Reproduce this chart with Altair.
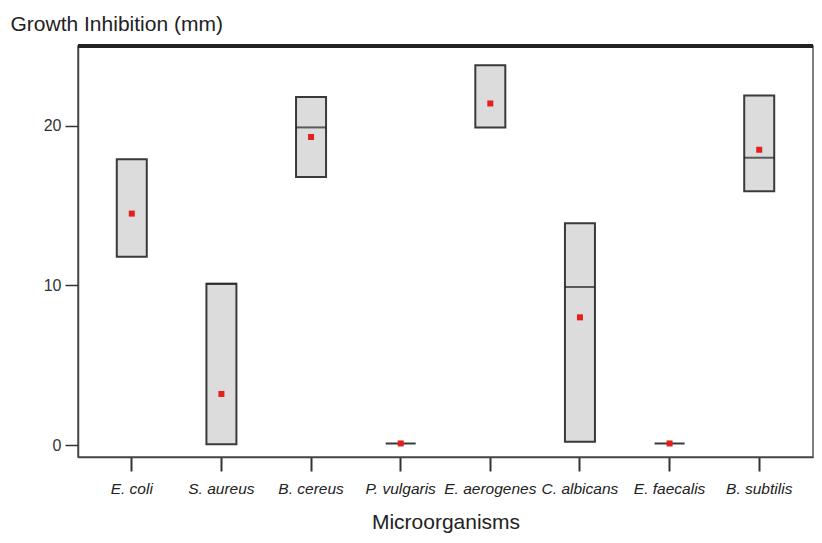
import altair as alt
import pandas as pd

categories = ["E. coli", "S. aureus", "B. cereus", "P. vulgaris",
              "E. aerogenes", "C. albicans", "E. faecalis", "B. subtilis"]
q1_values = [11.8, 0.05, 16.8, 0.1, 19.9, 0.2, 0.1, 15.9]
q3_values = [17.9, 10.1, 21.8, 0.1, 23.8, 13.9, 0.1, 21.9]
mean_values = [14.5, 3.2, 19.3, 0.1, 21.4, 8.0, 0.1, 18.5]
median_categories = ["S. aureus", "B. cereus", "C. albicans", "B. subtilis"]
median_values = [10.1, 19.9, 9.9, 18.0]
y_ticks = [0, 10, 20]

df = pd.DataFrame({"cat": categories, "q1": q1_values, "q3": q3_values, "mean": mean_values})
dmed = pd.DataFrame({"cat": median_categories, "median": median_values})

W, H = 735, 411

xscale = alt.Scale(domain=categories, paddingInner=0, paddingOuter=0.1)
yscale = alt.Scale(domain=[-0.75, 25], nice=False, zero=False)

xaxis = alt.Axis(
    title="Microorganisms", labelAngle=0, labelFont="Liberation Sans", labelFontStyle="italic",
    labelFontSize=15.5, labelColor="#222", labelPadding=10, tickSize=14, tickWidth=2,
    tickColor="#333", domainColor="#444", domainWidth=1.5,
    titleFont="Liberation Sans", titleFontSize=21, titleFontWeight="normal", titleColor="#222",
    titleY=71, titleBaseline="alphabetic",
)
yaxis = alt.Axis(
    title="Growth Inhibition (mm)", values=y_ticks, grid=False, labelFont="Liberation Sans",
    labelFontSize=16, labelColor="#333", labelPadding=4, tickSize=13, tickWidth=1.5,
    tickColor="#333", domainColor="#444", domainWidth=1.5,
    titleFont="Liberation Sans", titleFontSize=21, titleFontWeight="normal", titleColor="#222",
    titleAngle=0, titleAlign="left", titleX=-68, titleY=-16, titleBaseline="alphabetic",
)

boxes = alt.Chart(df).mark_bar(size=30, fill="#dcdcdc", stroke="#3a3a3a", strokeWidth=2).encode(
    x=alt.X("cat:N", scale=xscale, axis=xaxis, sort=categories),
    y=alt.Y("q1:Q", scale=yscale, axis=yaxis),
    y2="q3:Q",
)

medians = alt.Chart(dmed).mark_tick(size=30, thickness=2, color="#222").encode(
    x=alt.X("cat:N", scale=xscale, sort=categories),
    y=alt.Y("median:Q", scale=yscale),
)

means = alt.Chart(df).mark_square(size=36, color="#e3201b", opacity=1).encode(
    x=alt.X("cat:N", scale=xscale, sort=categories),
    y=alt.Y("mean:Q", scale=yscale),
)

top_rule = alt.Chart(df).mark_rule(color="#222", strokeWidth=3).encode(
    x=alt.value(0), x2=alt.value(W), y=alt.value(0)
)

chart = alt.layer(boxes, medians, means, top_rule).properties(
    width=W, height=H,
    autosize=alt.AutoSizeParams(type="none"),
    padding={"left": 70, "top": 38, "right": 1, "bottom": 78},
).configure_view(stroke="#555", strokeWidth=1.5)

chart.save("out.html", embed_options={"renderer": "svg", "actions": False})
